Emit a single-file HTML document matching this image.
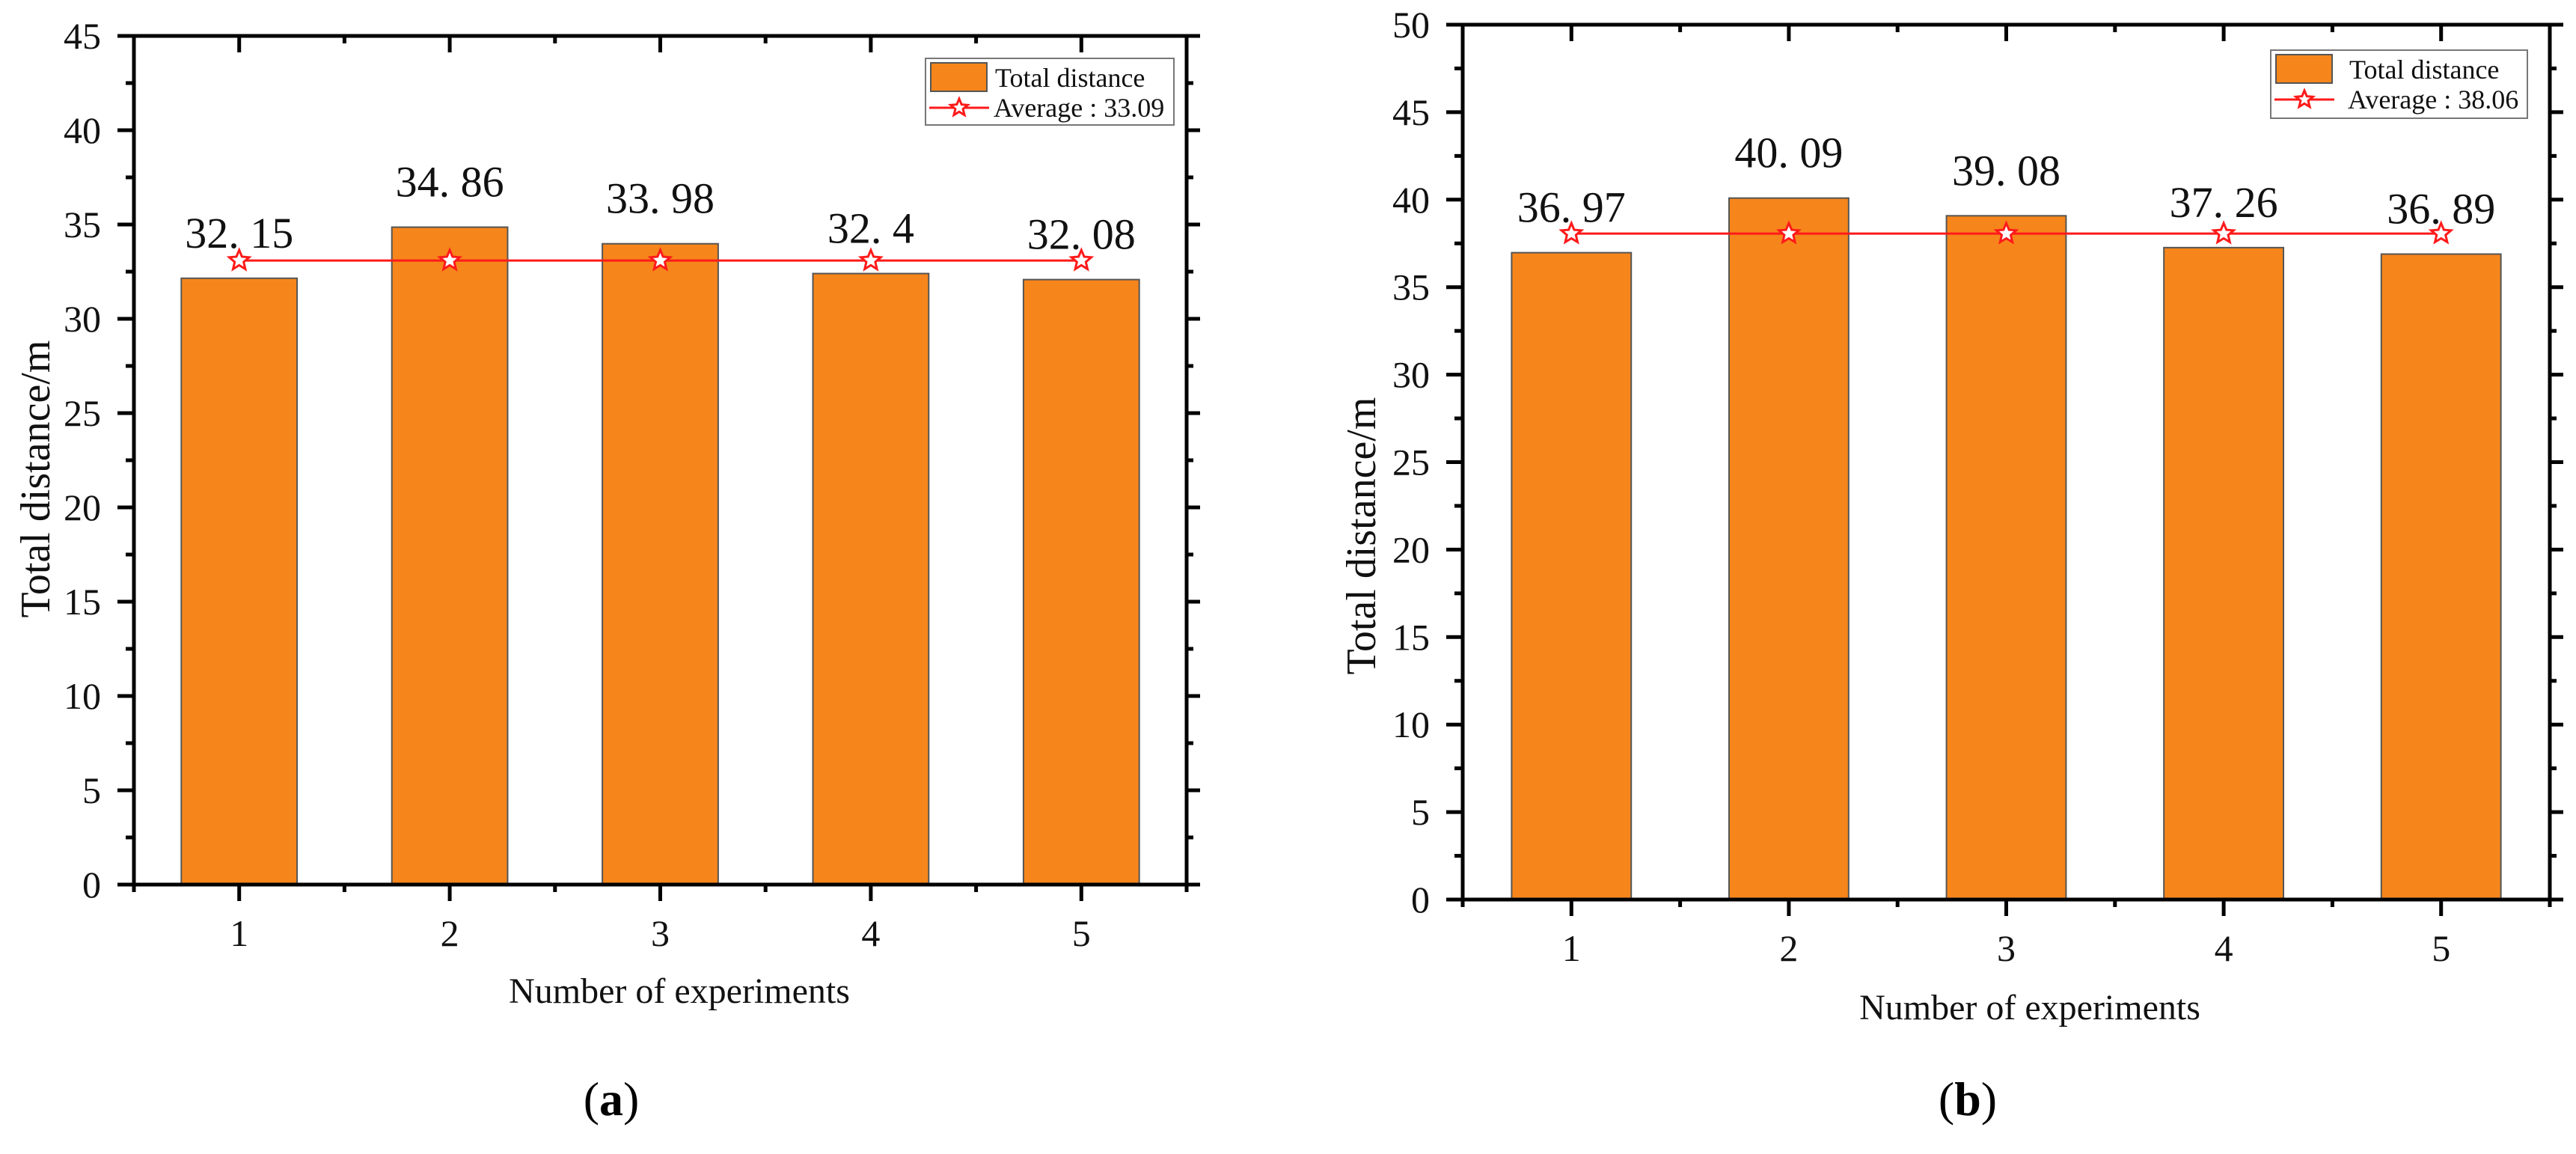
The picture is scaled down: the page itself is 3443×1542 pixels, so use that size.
<!DOCTYPE html>
<html><head><meta charset="utf-8">
<style>
html,body{margin:0;padding:0;background:#fff;}
svg{display:block;font-family:"Liberation Serif","Noto Serif CJK SC",serif;}
</style></head>
<body>
<svg id="fig" width="3443" height="1542" viewBox="0 0 3443 1542" xmlns="http://www.w3.org/2000/svg"></svg>
<script>
const categoriesA = [1, 2, 3, 4, 5];
const valuesA = [32.15, 34.86, 33.98, 32.4, 32.08];
const valueLabelsA = ["32. 15", "34. 86", "33. 98", "32. 4", "32. 08"];
const averageA = 33.09;
const yTicksA = [0, 5, 10, 15, 20, 25, 30, 35, 40, 45];

const categoriesB = [1, 2, 3, 4, 5];
const valuesB = [36.97, 40.09, 39.08, 37.26, 36.89];
const valueLabelsB = ["36. 97", "40. 09", "39. 08", "37. 26", "36. 89"];
const averageB = 38.06;
const yTicksB = [0, 5, 10, 15, 20, 25, 30, 35, 40, 45, 50];

const NS = "http://www.w3.org/2000/svg";
const svg = document.getElementById("fig");
function mk(tag, attrs, parent, text) {
  const e = document.createElementNS(NS, tag);
  for (const k in attrs) e.setAttribute(k, attrs[k]);
  if (text !== undefined) e.textContent = text;
  (parent || svg).appendChild(e);
  return e;
}
function starPts(cx, cy, R) {
  const r = R * 0.45, p = [];
  for (let i = 0; i < 10; i++) {
    const a = -Math.PI / 2 + i * Math.PI / 5, rr = i % 2 ? r : R;
    p.push((cx + rr * Math.cos(a)).toFixed(1) + "," + (cy + rr * Math.sin(a)).toFixed(1));
  }
  return p.join(" ");
}

function drawChart(cfg, cats, vals, labels, avg, yTicks) {
  const g = mk("g", {});
  
  
  const {x0, x1, y0, y1, ymax} = cfg;
  const xs = c => x0 + (c - 0.5) * (x1 - x0) / cats.length;
  const ys = v => y0 - v * (y0 - y1) / ymax;
  const step = (x1 - x0) / cats.length;
  const bw = step * 0.55;
  cats.forEach((c, i) => {
    const b = mk("rect", {x: xs(c) - bw / 2, y: ys(vals[i]), width: bw, height: y0 - ys(vals[i]), fill: "#F6861B", stroke: "#555", "stroke-width": 2}, g);
    
    
    const t = mk("text", {x: xs(c), y: ys(vals[i]) - 41, "font-size": 58, "text-anchor": "middle", fill: "#111"}, g, labels[i]);
    
    
  });
  const ln = mk("line", {x1: xs(cats[0]), x2: xs(cats[cats.length - 1]), y1: ys(avg), y2: ys(avg), stroke: "#FF1A1A", "stroke-width": 3}, g);
  
  
  cats.forEach(c => {
    const s = mk("polygon", {points: starPts(xs(c), ys(avg), 14), fill: "#fff", stroke: "#FF1A1A", "stroke-width": 3}, g);
    
    
  });
  const fr = mk("rect", {x: x0, y: y1, width: x1 - x0, height: y0 - y1, fill: "none", stroke: "#000", "stroke-width": 5}, g);
  
  
  const dy = yTicks[1] - yTicks[0];
  yTicks.forEach(v => {
    const y = ys(v);
    mk("line", {x1: x0 - 22, x2: x0, y1: y, y2: y, stroke: "#000", "stroke-width": 5}, g);
    mk("line", {x1: x1, x2: x1 + 18, y1: y, y2: y, stroke: "#000", "stroke-width": 5}, g);
    const t = mk("text", {x: x0 - 44, y: y + 17, "font-size": 50, "text-anchor": "end", fill: "#111"}, g, String(v));
    
    
    if (v + dy / 2 <= ymax) {
      const ym = ys(v + dy / 2);
      mk("line", {x1: x0 - 11, x2: x0, y1: ym, y2: ym, stroke: "#000", "stroke-width": 5}, g);
      mk("line", {x1: x1, x2: x1 + 9, y1: ym, y2: ym, stroke: "#000", "stroke-width": 5}, g);
    }
  });
  for (let k = 0; k <= cats.length; k++) {
    const x = x0 + k * step;
    mk("line", {x1: x, x2: x, y1: y0, y2: y0 + 10, stroke: "#000", "stroke-width": 5}, g);
    mk("line", {x1: x, x2: x, y1: y1, y2: y1 + 10, stroke: "#000", "stroke-width": 5}, g);
  }
  cats.forEach(c => {
    const x = xs(c);
    mk("line", {x1: x, x2: x, y1: y0, y2: y0 + 22, stroke: "#000", "stroke-width": 5}, g);
    mk("line", {x1: x, x2: x, y1: y1, y2: y1 + 22, stroke: "#000", "stroke-width": 5}, g);
    const t = mk("text", {x: x, y: y0 + 82, "font-size": 50, "text-anchor": "middle", fill: "#111"}, g, String(c));
    
    
  });
  const xt = mk("text", {x: cfg.xtx, y: cfg.xty, "font-size": 48, "text-anchor": "middle", fill: "#111"}, g, "Number of experiments");
  
  
  const yt = mk("text", {x: 0, y: 0, "font-size": 56, "text-anchor": "middle", fill: "#111", transform: `translate(${cfg.ytx},${cfg.yty}) rotate(-90)`}, g, "Total distance/m");
  
  
  const L = cfg.leg;
  const lg = mk("g", {}, g);
  
  
  mk("rect", {x: L.x, y: L.y, width: L.w, height: L.h, fill: "#fff", stroke: "#777", "stroke-width": 2}, lg);
  mk("rect", {x: L.x + 7, y: L.y + 6, width: 75, height: 38, fill: "#F6861B", stroke: "#555", "stroke-width": 2}, lg);
  const t1 = mk("text", {x: L.tx, y: L.y + 38, "font-size": 36, fill: "#111"}, lg, "Total distance");
  
  
  mk("line", {x1: L.x + 5, x2: L.x + 85, y1: L.y + 66, y2: L.y + 66, stroke: "#FF1A1A", "stroke-width": 3}, lg);
  mk("polygon", {points: starPts(L.x + 45, L.y + 66, 12), fill: "#fff", stroke: "#FF1A1A", "stroke-width": 3}, lg);
  const t2 = mk("text", {x: L.tx - 2, y: L.y + 78, "font-size": 36, fill: "#111"}, lg, "Average : " + avg.toFixed(2));
  
  
  const pl = mk("text", {x: cfg.plx, y: 1490, "font-size": 64, "text-anchor": "middle", fill: "#000"}, g);
  
  
  mk("tspan", {}, pl, "(");
  mk("tspan", {"font-weight": "bold"}, pl, cfg.letter);
  mk("tspan", {}, pl, ")");
}

drawChart({name: "chart-a", x0: 179, x1: 1586, y0: 1182, y1: 48, ymax: 45,
  xtx: 908, xty: 1340, ytx: 66, yty: 640, plx: 817, letter: "a",
  leg: {x: 1237, y: 78, w: 332, h: 89, tx: 1330}},
  categoriesA, valuesA, valueLabelsA, averageA, yTicksA);
drawChart({name: "chart-b", x0: 1955, x1: 3408, y0: 1202, y1: 33, ymax: 50,
  xtx: 2713, xty: 1362, ytx: 1838, yty: 716, plx: 2630, letter: "b",
  leg: {x: 3035, y: 67, w: 343, h: 91, tx: 3140}},
  categoriesB, valuesB, valueLabelsB, averageB, yTicksB);
</script>
</body></html>
